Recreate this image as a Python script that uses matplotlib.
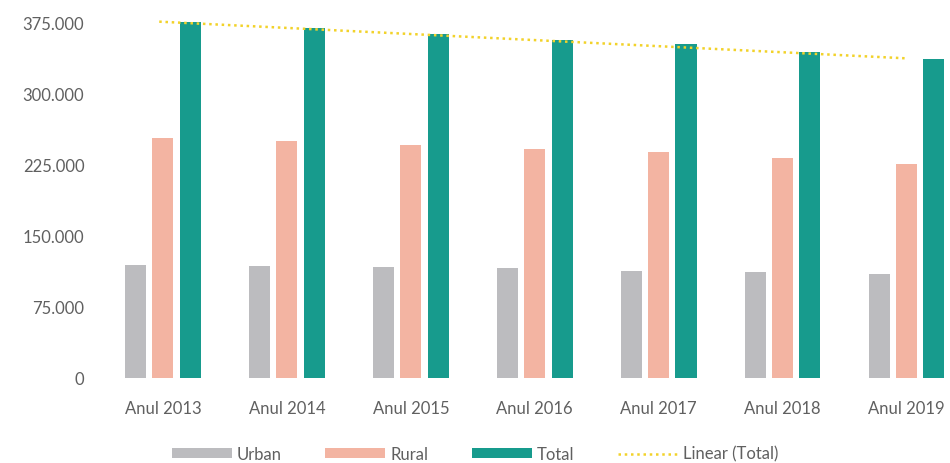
import numpy as np
import matplotlib
matplotlib.use("Agg")
import matplotlib.pyplot as plt
from matplotlib.ticker import FuncFormatter

# data
years = ["Anul 2013", "Anul 2014", "Anul 2015", "Anul 2016",
         "Anul 2017", "Anul 2018", "Anul 2019"]
urban = [119500, 118500, 117500, 116500, 113500, 111500, 109500]
rural = [253500, 250000, 246000, 242000, 238500, 232000, 226500]
total = [376000, 369500, 363000, 357000, 352500, 344000, 336500]
yticks = [0, 75000, 150000, 225000, 300000, 375000]

plt.rcParams['font.family'] = ['Lato', 'DejaVu Sans']
txt = "#606060"

fig = plt.figure(figsize=(9.5, 4.64), dpi=100)
ax = fig.add_axes([0.1063, 0.1832, 0.8937, 0.7957])

x = np.arange(len(years))
w = 0.17
off = 0.22
hu = ax.bar(x - off, urban, w, color="#bcbcbf", label="Urban")
hr = ax.bar(x, rural, w, color="#f3b4a2", label="Rural")
ht = ax.bar(x + off, total, w, color="#179b8d", label="Total")

# linear trend of total
k, b = np.polyfit(x, total, 1)
xt = np.array([x[0] - 0.03, x[-1]])
hl, = ax.plot(xt, k * xt + b, linestyle=(0, (1, 1.5)), color="#f2d22a", lw=1.8,
              label="Linear (Total)")

ax.set_xlim(-0.5, 6.35)
ax.set_ylim(0, 390000)
ax.set_xticks(x)
ax.set_xticklabels(years)
ax.set_yticks(yticks)
ax.yaxis.set_major_formatter(FuncFormatter(lambda v, p: f"{int(v):,}".replace(",", ".")))
ax.tick_params(length=0, labelsize=12, colors=txt)
ax.tick_params(axis="y", pad=12)
ax.tick_params(axis="x", pad=16)
for s in ax.spines.values():
    s.set_visible(False)

leg = fig.legend([hu, hr, ht, hl], ["Urban", "Rural", "Total", "Linear (Total)"],
                 loc="lower center", bbox_to_anchor=(0.5, -0.03), ncol=4,
                 frameon=False, fontsize=12, handlelength=3.6, handleheight=0.5,
                 handletextpad=0.3, columnspacing=2.6)
for t in leg.get_texts():
    t.set_color(txt)

fig.savefig("out.png", dpi=100)
